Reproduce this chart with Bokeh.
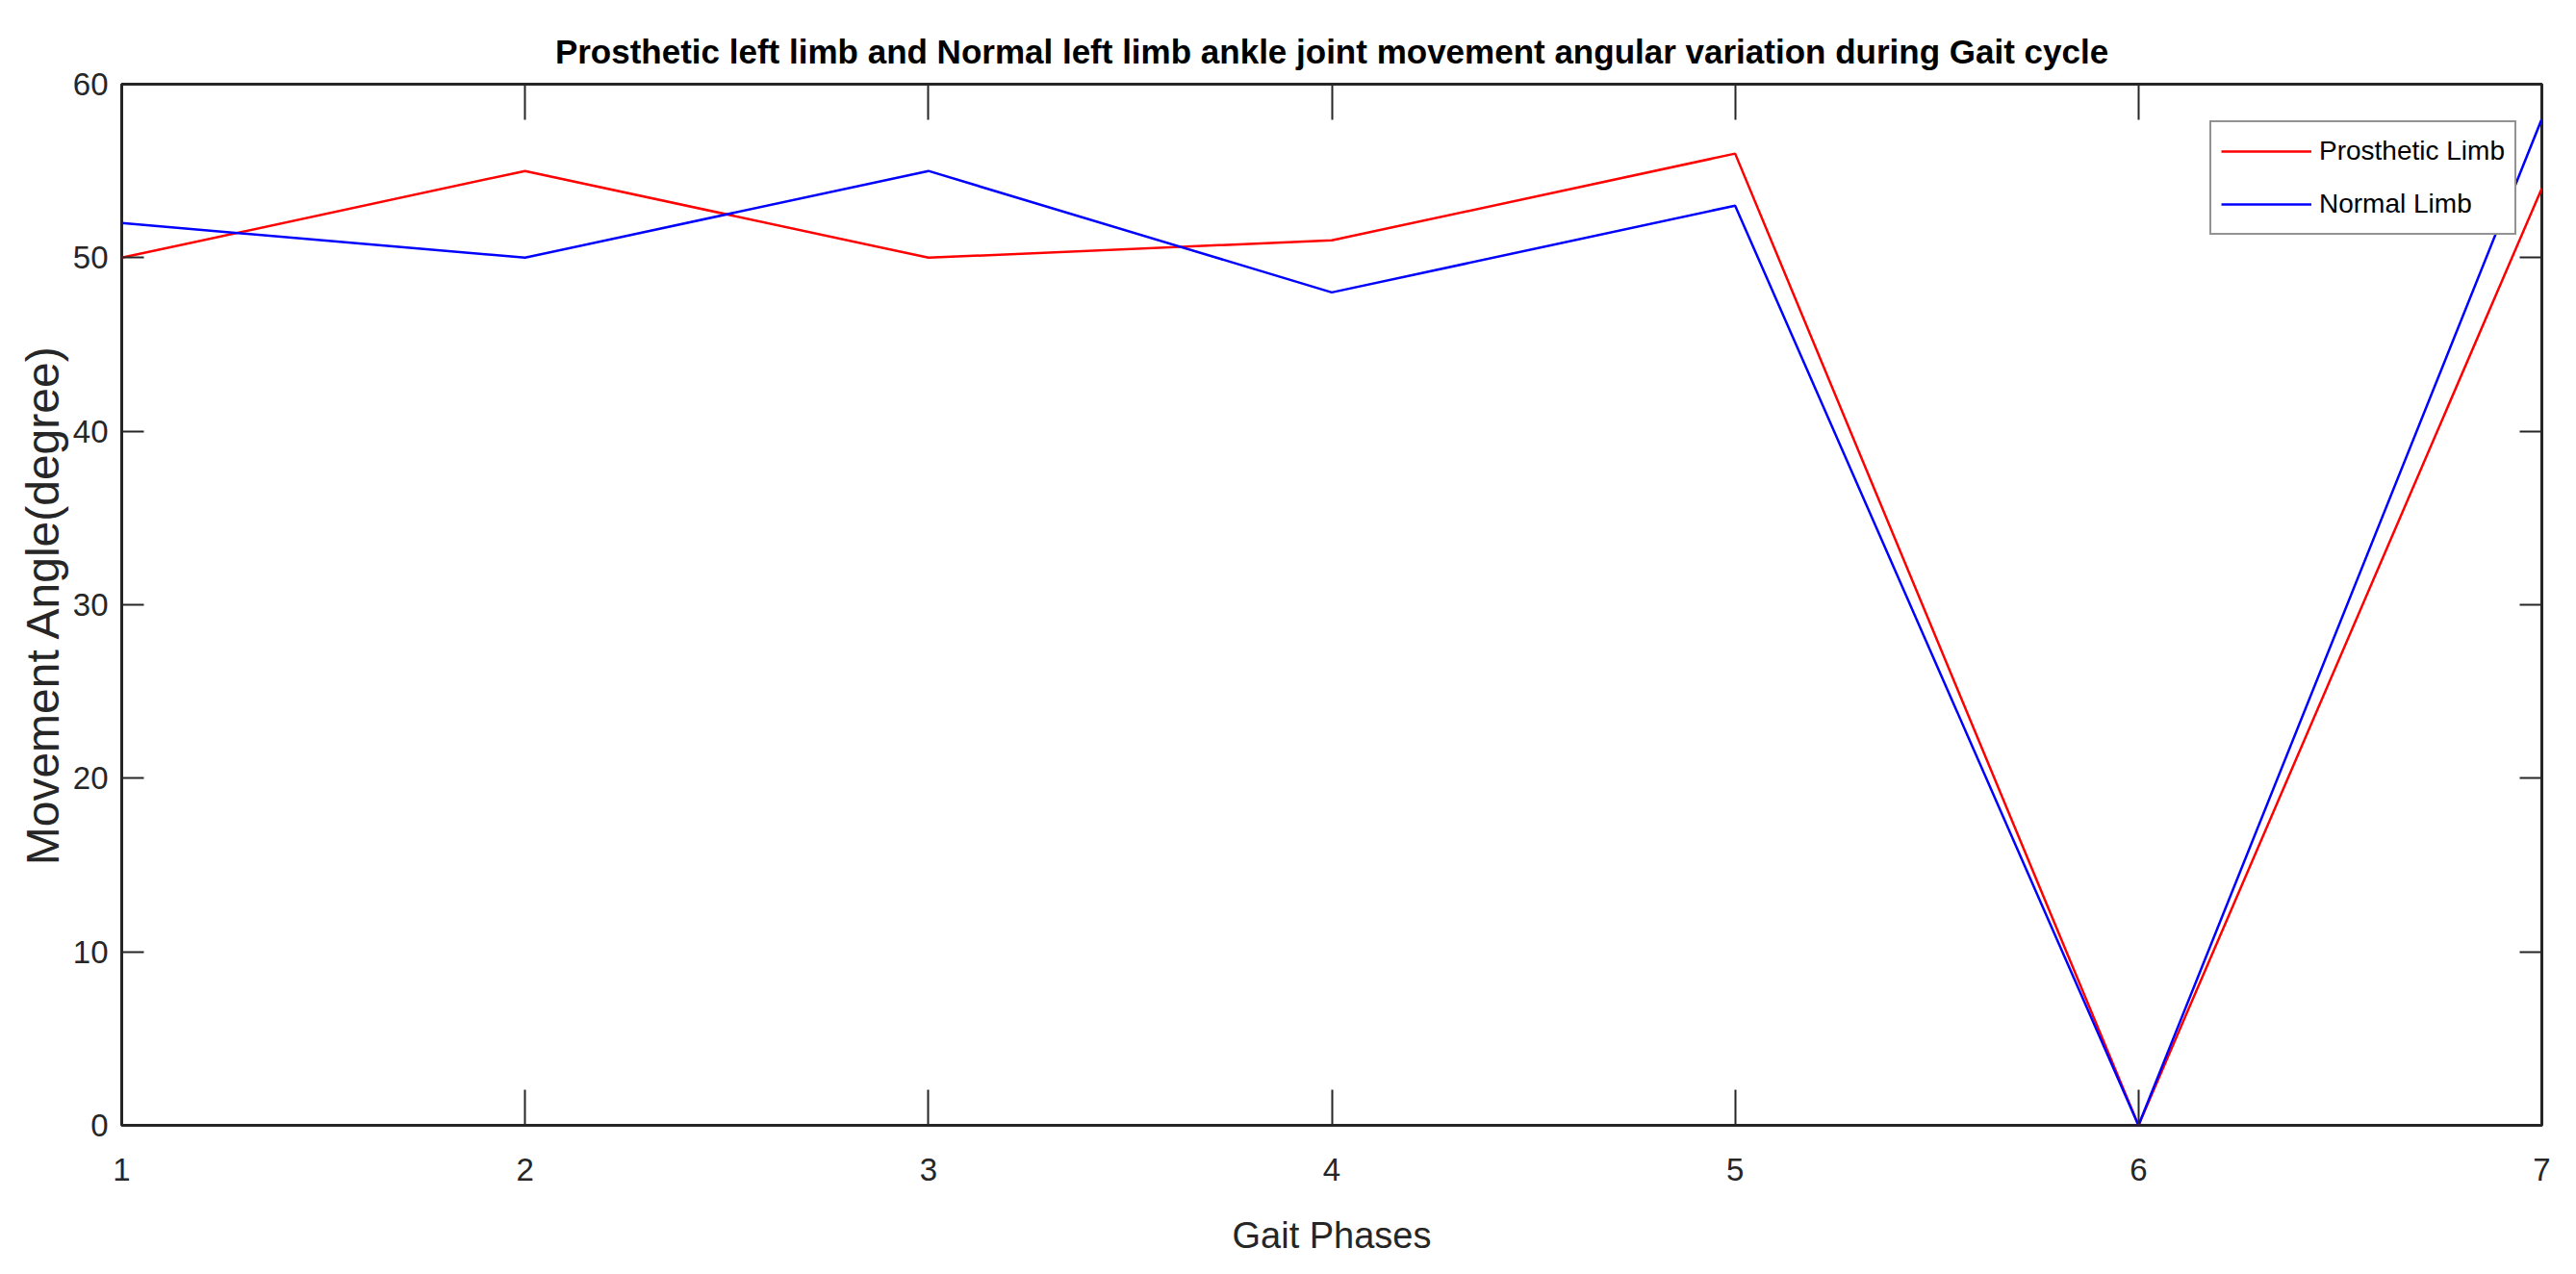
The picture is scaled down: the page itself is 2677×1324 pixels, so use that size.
from bokeh.plotting import figure
from bokeh.models import LinearAxis, FixedTicker, Legend, LegendItem, Range1d
from bokeh.embed import file_html
from bokeh.resources import INLINE

# ---- data ----
gait_phases = [1, 2, 3, 4, 5, 6, 7]
prosthetic_limb = [50, 55, 50, 51, 56, 0, 54]
normal_limb = [52, 50, 55, 48, 53, 0, 58]
x_ticks = [1, 2, 3, 4, 5, 6, 7]
y_ticks = [0, 10, 20, 30, 40, 50, 60]

TITLE = "Prosthetic left limb and Normal left limb ankle joint movement angular variation during Gait cycle"
FONT = "Liberation Sans"
AX = "#262626"

p = figure(
    frame_width=2515, frame_height=1082,
    min_border_left=126, min_border_right=28, min_border_top=87, min_border_bottom=140,
    x_range=Range1d(1, 7), y_range=Range1d(0, 60),
    output_backend="svg", toolbar_location=None,
    title=TITLE,
)

p.title.text_font = FONT
p.title.text_font_style = "bold"
p.title.text_font_size = "35px"
p.title.text_color = "black"
p.title.align = "center"
p.title.standoff = 30

p.grid.visible = False
p.outline_line_color = AX
p.outline_line_width = 3
p.background_fill_color = "white"
p.border_fill_color = "white"

# main axes
xa = p.xaxis[0]
ya = p.yaxis[0]
xa.ticker = FixedTicker(ticks=x_ticks)
ya.ticker = FixedTicker(ticks=y_ticks)
for ax in (xa, ya):
    ax.axis_line_color = None
    ax.major_tick_line_color = AX
    ax.major_tick_line_width = 2
    ax.major_tick_out = 0
    ax.minor_tick_line_color = None
    ax.major_label_text_font = FONT
    ax.major_label_text_font_size = "33px"
    ax.major_label_text_color = AX
    ax.axis_label_text_color = AX
    ax.axis_label_text_font = FONT
    ax.axis_label_text_font_style = "normal"
xa.major_tick_in = 37
ya.major_tick_in = 23
xa.major_label_standoff = 34
ya.major_label_standoff = 14
xa.axis_label = "Gait Phases"
xa.axis_label_text_font_size = "38px"
xa.axis_label_standoff = 33
ya.axis_label = "Movement Angle(degree)"
ya.axis_label_text_font_size = "48px"
ya.axis_label_standoff = 2

# mirrored axes (ticks only)
top = LinearAxis(ticker=FixedTicker(ticks=x_ticks))
right = LinearAxis(ticker=FixedTicker(ticks=y_ticks))
for ax, tl in ((top, 37), (right, 23)):
    ax.axis_line_color = None
    ax.major_tick_line_color = AX
    ax.major_tick_line_width = 2
    ax.major_tick_in = tl
    ax.major_tick_out = 0
    ax.minor_tick_line_color = None
    ax.major_label_text_font_size = "0px"
    ax.major_label_standoff = 0
    ax.major_label_text_color = None
p.add_layout(top, "above")
p.add_layout(right, "right")

r1 = p.line(gait_phases, prosthetic_limb, line_color="#FF0000", line_width=2.5)
r2 = p.line(gait_phases, normal_limb, line_color="#0000FF", line_width=2.5)

legend = Legend(
    items=[LegendItem(label="Prosthetic Limb", renderers=[r1]),
           LegendItem(label="Normal Limb", renderers=[r2])],
    location=(2170, 925),
)
legend.margin = 0
legend.padding = 10
legend.spacing = 15
legend.glyph_width = 94
legend.glyph_height = 40
legend.label_height = 40
legend.label_standoff = 8
legend.label_text_font = FONT
legend.label_text_font_size = "28px"
legend.label_text_color = "black"
legend.border_line_color = AX
legend.border_line_width = 2.5
legend.background_fill_color = "white"
legend.background_fill_alpha = 1
p.add_layout(legend)

open("out.html", "w").write(file_html(p, INLINE))
